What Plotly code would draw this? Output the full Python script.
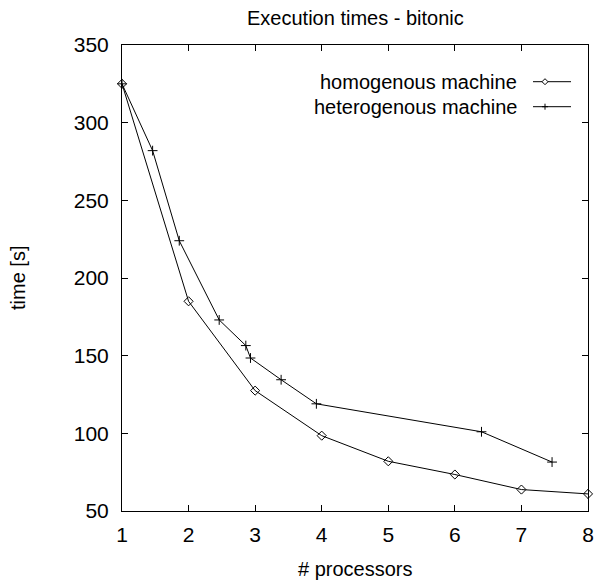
import plotly.graph_objects as go

# Execution times of the bitonic sort
homo_procs = [1, 2, 3, 4, 5, 6, 7, 8]
homo_time = [325, 185, 127.5, 98.5, 82, 73.5, 63.8, 61]

hetero_procs = [1, 1.46, 1.86, 2.46, 2.86, 2.93, 3.39, 3.92, 6.40, 7.46]
hetero_time = [325, 282, 224, 173, 156.5, 148.5, 134.5, 119, 101, 81.5]

series_names = ["homogenous machine", "heterogenous machine"]
x_ticks = [1, 2, 3, 4, 5, 6, 7, 8]
y_ticks = [50, 100, 150, 200, 250, 300, 350]

FONT = "Liberation Sans, Arial, sans-serif"
FS = 21

W, H = 595, 582
ML, MR, MT, MB = 122, 7, 45, 71

fig = go.Figure()
fig.add_trace(go.Scatter(
    x=homo_procs, y=homo_time, mode="lines+markers", name=series_names[0],
    line=dict(color="black", width=1),
    marker=dict(symbol="diamond-open", size=7, color="black", line=dict(width=1)),
    cliponaxis=False, showlegend=False))
fig.add_trace(go.Scatter(
    x=hetero_procs, y=hetero_time, mode="lines+markers", name=series_names[1],
    line=dict(color="black", width=1),
    marker=dict(symbol="cross-thin-open", size=7, color="black", line=dict(width=1, color="black")),
    cliponaxis=False, showlegend=False))

axis_common = dict(showline=True, linecolor="black", linewidth=1, mirror="ticks",
                   ticks="inside", ticklen=6, tickwidth=1, tickcolor="black",
                   showgrid=False, zeroline=False, ticklabeloverflow="allow",
                   automargin=False,
                   tickfont=dict(family=FONT, size=FS, color="black"))

fig.update_xaxes(range=[1, 8], tickvals=x_ticks, ticktext=[str(v) for v in x_ticks],
                 ticklabelstandoff=5, **axis_common)
fig.update_yaxes(range=[50, 350], tickvals=y_ticks, ticktext=[str(v) for v in y_ticks],
                 ticklabelstandoff=8, **axis_common)

pw = W - ML - MR
ph = H - MT - MB


def px_x(p):
    return (p - ML) / pw


def px_y(p):
    return (H - MB - p) / ph


annotations = [
    dict(text="Execution times - bitonic", x=0.5, y=px_y(18), xref="paper", yref="paper",
         xanchor="center", yanchor="middle", showarrow=False,
         font=dict(family=FONT, size=FS - 1, color="black")),
    dict(text="# processors", x=0.5, y=px_y(569), xref="paper", yref="paper",
         xanchor="center", yanchor="middle", showarrow=False,
         font=dict(family=FONT, size=FS - 1, color="black")),
    dict(text="time [s]", x=px_x(18), y=0.5, xref="paper", yref="paper", textangle=-90,
         xanchor="center", yanchor="middle", showarrow=False,
         font=dict(family=FONT, size=FS - 1, color="black")),
]

# key: text on the left, line sample with point symbol on the right
shapes = []
key_rows = [81.7, 106.7]
for name, row in zip(series_names, key_rows):
    annotations.append(dict(text=name, x=px_x(519), y=px_y(row), xref="paper", yref="paper",
                            xanchor="right", yanchor="middle", showarrow=False,
                            font=dict(family=FONT, size=FS - 1, color="black")))
    shapes.append(dict(type="line", xref="paper", yref="paper",
                       x0=px_x(533), x1=px_x(571), y0=px_y(row), y1=px_y(row),
                       line=dict(color="black", width=1)))
# key symbols
shapes.append(dict(type="path", xref="paper", yref="paper", xsizemode="pixel", ysizemode="pixel",
                   xanchor=px_x(545), yanchor=px_y(key_rows[0]),
                   path="M-3,0 L0,3 L3,0 L0,-3 Z", fillcolor="white",
                   line=dict(color="black", width=1)))
shapes.append(dict(type="path", xref="paper", yref="paper", xsizemode="pixel", ysizemode="pixel",
                   xanchor=px_x(545), yanchor=px_y(key_rows[1]),
                   path="M-3,0 L3,0 M0,-3 L0,3",
                   line=dict(color="black", width=1)))

fig.update_layout(
    width=W, height=H, autosize=False,
    margin=dict(l=ML, r=MR, t=MT, b=MB, pad=0),
    paper_bgcolor="white", plot_bgcolor="white",
    annotations=annotations, shapes=shapes,
    font=dict(family=FONT, size=FS, color="black"),
)

fig.write_html("out.html")
